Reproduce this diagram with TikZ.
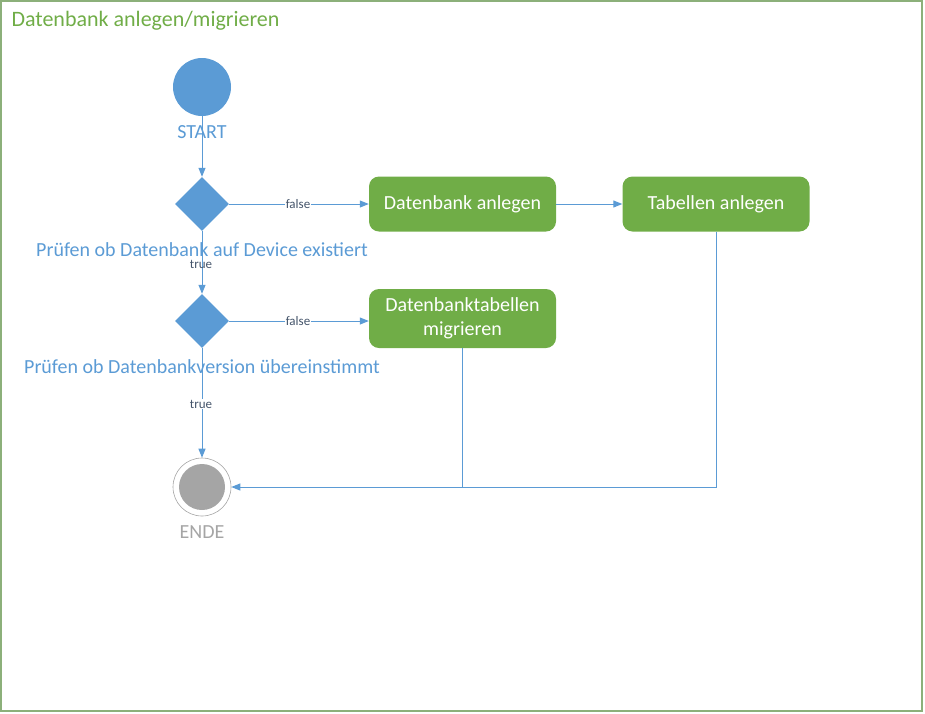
\documentclass[tikz,border=0pt]{standalone}
\usepackage{fontspec}
\setmainfont{Carlito}
\usetikzlibrary{arrows.meta,shapes.geometric}
\definecolor{actblue}{HTML}{5B9BD5}
\definecolor{actgreen}{HTML}{70AD47}
\definecolor{framegreen}{HTML}{8CB07A}
\definecolor{lblgray}{HTML}{44546A}
\definecolor{endgray}{HTML}{A5A5A5}
\begin{document}
\begin{tikzpicture}[x=1pt,y=-1pt,
  action/.style={draw=none, fill=actgreen, rounded corners=10pt, text=white, align=center, minimum width=187pt, font=\fontsize{20}{24}\selectfont},
  decision/.style={diamond, fill=actblue, minimum width=54pt, minimum height=54pt, inner sep=0pt},
  caption/.style={text=actblue, font=\fontsize{20}{24}\selectfont},
  guard/.style={text=lblgray, fill=white, font=\fontsize{13}{15}\selectfont, inner sep=1pt},
  flow/.style={draw=actblue, line width=1pt, -{Triangle[length=9pt,width=7pt]}},
  link/.style={draw=actblue, line width=1pt}]
\useasboundingbox (0,0) rectangle (925,713);
\draw[framegreen, line width=1.3pt] (1,1) rectangle (922,711);
\node[anchor=west, text=actgreen, font=\fontsize{22}{26}\selectfont] (title) at (8,21) {Datenbank anlegen/migrieren};

\node[circle, fill=actblue, minimum size=58pt, inner sep=0pt] (start) at (202,87){};
\node[caption] (startlbl) at (202,132) {START};
\node[decision] (chk1) at (202,204){};
\node[caption] (chk1lbl) at (202,250) {Prüfen ob Datenbank auf Device existiert};
\node[decision] (chk2) at (202,321){};
\node[caption] (chk2lbl) at (202,367) {Prüfen ob Datenbankversion übereinstimmt};
\node[circle, draw=endgray, line width=0.6pt, minimum size=58pt, inner sep=0pt] (stop) at (202,487){};
\node[circle, fill=endgray, minimum size=46pt, inner sep=0pt] (stopdot) at (202,487){};
\node[caption, text=endgray] (stoplbl) at (202,532) {ENDE};

\node[action, minimum height=55pt] (dbnew) at (462.5,204) {Datenbank anlegen};
\node[action, minimum height=55pt] (tblnew) at (716,204) {Tabellen anlegen};
\node[action, minimum height=59pt] (tblmig) at (462.5,318.5) {Datenbanktabellen\\migrieren};
\coordinate (join) at (462,487);

\draw[flow] (start) -- (chk1);
\draw[flow] (chk1) -- (chk2);
\draw[flow] (chk2) -- (stop);
\draw[flow] (chk1) -- (dbnew);
\draw[flow] (dbnew) -- (tblnew);
\draw[flow] (chk2.east) -- (tblmig.west |- chk2.east);
\draw[link] (tblnew.south) |- (join);
\draw[flow] (tblmig.south -| join) -- (join) -- (stop.east);

\node[guard] (f1) at (298,204) {false};
\node[guard, fill=none] (t1) at (201,264) {true};
\node[guard] (f2) at (298,321) {false};
\node[guard] (t2) at (201,404) {true};
\end{tikzpicture}
\end{document}
